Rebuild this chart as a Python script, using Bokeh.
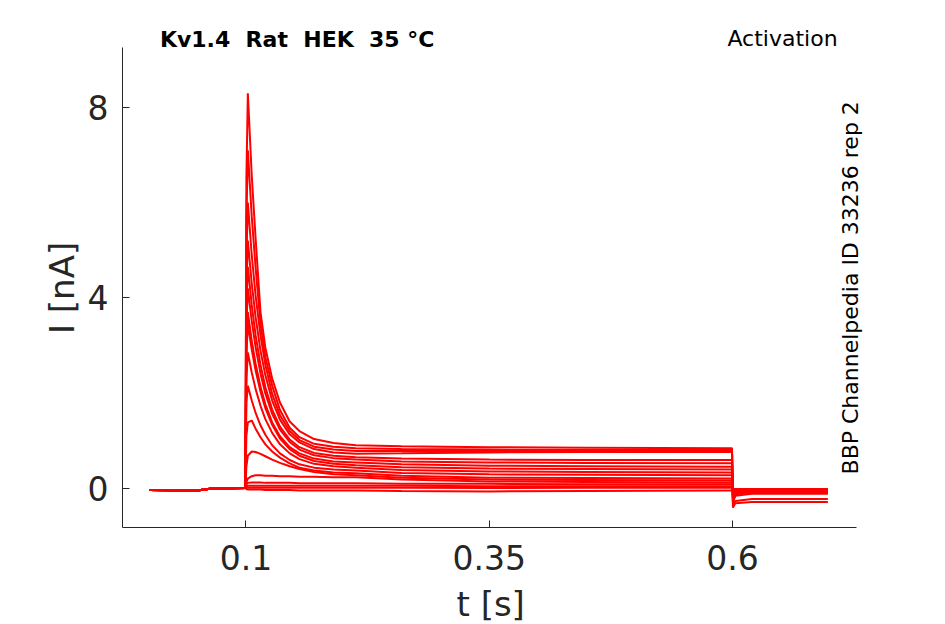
from bokeh.plotting import figure
from bokeh.models import FixedTicker, Label, Range1d
from bokeh.embed import file_html
from bokeh.resources import INLINE
import math

# ---------------- data ----------------
# holding period before the step (shared by all sweeps)
T_PRE = [0.001, 0.050, 0.065, 0.0995]
I_PRE = [-0.04, -0.05, -0.01, 0.0]

# during the test pulse
T_STEP = [0.1005, 0.102, 0.106, 0.110, 0.115, 0.120, 0.127, 0.135, 0.145,
          0.155, 0.170, 0.190, 0.213, 0.260, 0.350, 0.450, 0.5995]
SWEEPS = [
    [6.5, 8.3, 6.57, 5.24, 3.70, 2.95, 2.30, 1.80, 1.40, 1.20, 1.03, 0.95, 0.90, 0.88, 0.86, 0.85, 0.84],
    [5.6, 7.1, 5.71, 4.63, 3.45, 2.75, 2.15, 1.64, 1.27, 1.07, 0.93, 0.87, 0.84, 0.82, 0.81, 0.80, 0.80],
    [4.8, 6.0, 4.90, 4.04, 3.21, 2.59, 1.98, 1.53, 1.20, 1.01, 0.87, 0.81, 0.78, 0.78, 0.78, 0.78, 0.78],
    [4.2, 5.2, 4.30, 3.59, 2.89, 2.37, 1.84, 1.44, 1.13, 0.96, 0.82, 0.75, 0.72, 0.73, 0.75, 0.76, 0.76],
    [3.8, 4.65, 3.85, 3.21, 2.59, 2.12, 1.65, 1.29, 1.02, 0.86, 0.74, 0.68, 0.65, 0.62, 0.60, 0.59, 0.59],
    [3.4, 4.2, 3.51, 2.96, 2.41, 1.99, 1.56, 1.23, 0.97, 0.81, 0.69, 0.63, 0.60, 0.56, 0.54, 0.53, 0.52],
    [3.0, 3.7, 3.10, 2.61, 2.13, 1.76, 1.38, 1.09, 0.86, 0.73, 0.62, 0.56, 0.54, 0.50, 0.47, 0.46, 0.45],
    [2.8, 3.45, 2.91, 2.47, 2.03, 1.68, 1.33, 1.04, 0.82, 0.68, 0.57, 0.51, 0.48, 0.44, 0.41, 0.40, 0.39],
    [2.3, 2.85, 2.43, 2.08, 1.73, 1.45, 1.16, 0.92, 0.73, 0.61, 0.51, 0.46, 0.43, 0.38, 0.35, 0.34, 0.33],
    [1.8, 2.15, 1.84, 1.58, 1.32, 1.12, 0.90, 0.73, 0.59, 0.50, 0.43, 0.39, 0.37, 0.32, 0.29, 0.28, 0.27],
    [1.1, 1.38, 1.42, 1.25, 1.07, 0.92, 0.77, 0.64, 0.52, 0.43, 0.37, 0.33, 0.31, 0.26, 0.22, 0.21, 0.20],
    [0.45, 0.68, 0.77, 0.76, 0.72, 0.67, 0.60, 0.53, 0.46, 0.40, 0.34, 0.29, 0.27, 0.22, 0.18, 0.17, 0.16],
    [0.12, 0.20, 0.25, 0.27, 0.27, 0.26, 0.26, 0.25, 0.25, 0.24, 0.24, 0.23, 0.23, 0.18, 0.14, 0.13, 0.12],
    [0.08, 0.11, 0.12, 0.12, 0.12, 0.11, 0.11, 0.11, 0.11, 0.10, 0.10, 0.10, 0.10, 0.09, 0.09, 0.08, 0.08],
    [0.04, 0.05, 0.05, 0.05, 0.05, 0.05, 0.05, 0.05, 0.05, 0.05, 0.05, 0.05, 0.05, 0.05, 0.04, 0.04, 0.04],
    [0.01, 0.01, 0.01, 0.01, 0.01, 0.01, 0.01, 0.01, 0.01, 0.01, 0.01, 0.01, 0.01, 0.01, 0.00, 0.01, 0.01],
    [-0.02, -0.03, -0.03, -0.03, -0.03, -0.04, -0.04, -0.04, -0.04, -0.05, -0.05, -0.05, -0.05, -0.06, -0.07, -0.06, -0.05],
]

# tail after the pulse
T_TAIL = [0.6005, 0.603, 0.620, 0.698]
TAILS = [
    [-0.41, -0.32, -0.29, -0.29],
    [-0.36, -0.27, -0.23, -0.23],
    [-0.30, -0.16, -0.12, -0.12],
    [-0.28, -0.13, -0.10, -0.10],
    [-0.25, -0.11, -0.08, -0.08],
    [-0.22, -0.09, -0.07, -0.07],
    [-0.20, -0.08, -0.06, -0.06],
    [-0.18, -0.07, -0.05, -0.05],
    [-0.15, -0.06, -0.04, -0.04],
    [-0.12, -0.05, -0.04, -0.04],
    [-0.10, -0.04, -0.03, -0.03],
    [-0.06, -0.03, -0.03, -0.03],
    [-0.04, -0.02, -0.02, -0.02],
    [-0.03, -0.02, -0.02, -0.02],
    [-0.02, -0.02, -0.02, -0.02],
    [-0.02, -0.02, -0.02, -0.02],
    [-0.05, -0.05, -0.05, -0.05],
]

X_TICKS = [0.1, 0.35, 0.6]
X_TICK_LABELS = ["0.1", "0.35", "0.6"]
Y_TICKS = [0, 4, 8]
Y_TICK_LABELS = ["0", "4", "8"]

X_AXIS_LIMITS = (-0.0268, 0.7278)
Y_AXIS_LIMITS = (-0.828, 9.261)

# non-breaking spaces keep the double spacing of the original title
TITLE = "Kv1.4\u00a0 Rat\u00a0 HEK\u00a0 35 °C"
PROTOCOL = "Activation"
SOURCE = "BBP Channelpedia ID 33236 rep 2"
# trailing invisible spaces re-centre the axis titles on the drawn axis lines
# (the frame is a little larger than the axes so that the annotations are not clipped)
X_LABEL = "t [s]\u00a0\u00a0"
Y_LABEL = "I [nA]\u00a0\u2002"

# ---------------- figure ----------------
FONT = "DejaVu Sans"
AX = "#262626"

p = figure(frame_width=758, frame_height=507,
           x_range=Range1d(-0.0268, 0.7521), y_range=Range1d(-0.828, 9.828),
           min_border_left=122, min_border_right=65, min_border_top=20, min_border_bottom=97,
           output_backend="svg", toolbar_location=None)
p.outline_line_color = None
p.xgrid.visible = False
p.ygrid.visible = False
p.background_fill_color = "white"
p.border_fill_color = "white"

xs = [T_PRE + T_STEP + T_TAIL for _ in SWEEPS]
ys = [I_PRE + s + t for s, t in zip(SWEEPS, TAILS)]
p.multi_line(xs, ys, line_color="#ff0000", line_width=2.0)

for ax, ticks, labels, name, lim, tstand, lstand in (
        (p.xaxis[0], X_TICKS, X_TICK_LABELS, X_LABEL, X_AXIS_LIMITS, 17, 11),
        (p.yaxis[0], Y_TICKS, Y_TICK_LABELS, Y_LABEL, Y_AXIS_LIMITS, 14, 3)):
    ax.ticker = FixedTicker(ticks=ticks)
    ax.major_label_overrides = {k: v for k, v in zip(ticks, labels)}
    ax.bounds = lim
    ax.axis_line_color = AX
    ax.axis_line_width = 1
    ax.major_tick_line_color = AX
    ax.major_tick_in = 7
    ax.major_tick_out = 0
    ax.minor_tick_line_color = None
    ax.major_label_text_font = FONT
    ax.major_label_text_font_size = "33px"
    ax.major_label_text_color = AX
    ax.major_label_standoff = tstand
    ax.axis_label = name
    ax.axis_label_text_font = FONT
    ax.axis_label_text_font_size = "34px"
    ax.axis_label_text_font_style = "normal"
    ax.axis_label_text_color = AX
    ax.axis_label_standoff = lstand

p.add_layout(Label(x=0.1527, y=9.42, text=TITLE, text_font=FONT, text_font_size="22px",
                   text_font_style="bold", text_color="black", text_align="center",
                   text_baseline="alphabetic"))
p.add_layout(Label(x=0.6514, y=9.44, text=PROTOCOL, text_font=FONT, text_font_size="22px",
                   text_color="black", text_align="center", text_baseline="alphabetic"))
p.add_layout(Label(x=0.7217, y=4.21, text=SOURCE, text_font=FONT, text_font_size="22px",
                   text_color="black", text_align="center", text_baseline="alphabetic",
                   angle=math.pi / 2))

open("out.html", "w").write(file_html(p, INLINE))
